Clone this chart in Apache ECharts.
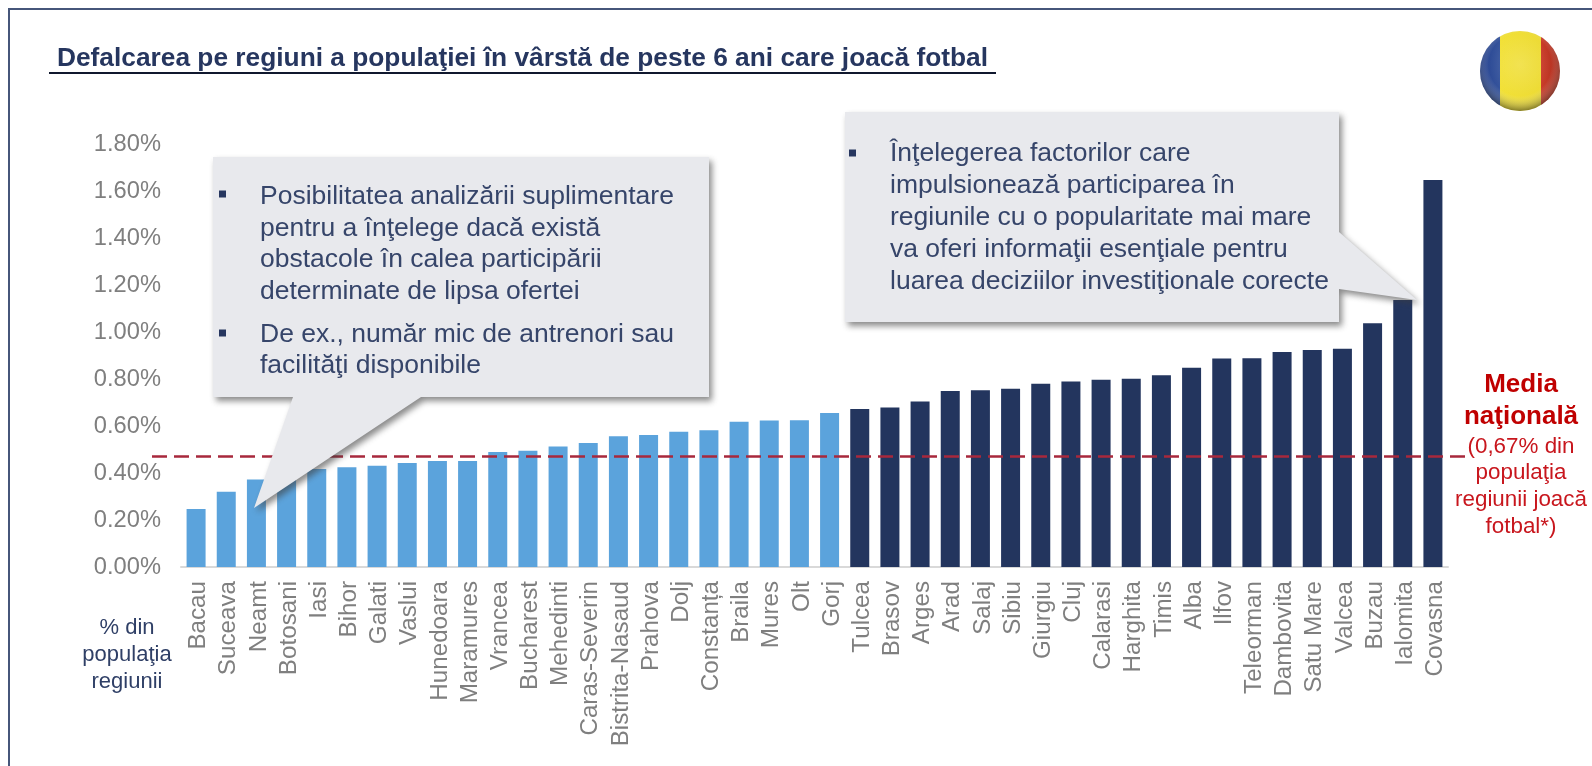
<!DOCTYPE html>
<html>
<head>
<meta charset="utf-8">
<title>Defalcarea pe regiuni</title>
<style>
html, body { margin: 0; padding: 0; background: #fff; }
#chart { width: 1592px; height: 766px; }
</style>
<script src="https://cdn.jsdelivr.net/npm/echarts@6/dist/echarts.min.js"></script>
</head>
<body>
<div id="chart"></div>
<script>
var regions = ['Bacau', 'Suceava', 'Neamt', 'Botosani', 'Iasi', 'Bihor', 'Galati', 'Vaslui', 'Hunedoara', 'Maramures',
    'Vrancea', 'Bucharest', 'Mehedinti', 'Caras-Severin', 'Bistrita-Nasaud', 'Prahova', 'Dolj', 'Constanța', 'Braila',
    'Mures', 'Olt', 'Gorj', 'Tulcea', 'Brasov', 'Arges', 'Arad', 'Salaj', 'Sibiu', 'Giurgiu', 'Cluj', 'Calarasi',
    'Harghita', 'Timis', 'Alba', 'Ilfov', 'Teleorman', 'Dambovita', 'Satu Mare', 'Valcea', 'Buzau', 'Ialomita', 'Covasna'];
var shares = [0.247, 0.32, 0.372, 0.39, 0.417, 0.425, 0.431, 0.443, 0.451, 0.451,
    0.489, 0.495, 0.513, 0.528, 0.556, 0.562, 0.576, 0.582, 0.618,
    0.623, 0.624, 0.655, 0.672, 0.679, 0.704, 0.749, 0.752, 0.759, 0.78, 0.789, 0.797,
    0.801, 0.816, 0.848, 0.887, 0.888, 0.915, 0.923, 0.929, 1.037, 1.136, 1.647];
var lightBars = 22; // first regions, below the national average group
var averageLine = 0.472;

var titleText = 'Defalcarea pe regiuni a populaţiei în vârstă de peste 6 ani care joacă fotbal';
var leftNote = ['Posibilitatea analizării suplimentare', 'pentru a înţelege dacă există', 'obstacole în calea participării',
    'determinate de lipsa ofertei', 'De ex., număr mic de antrenori sau', 'facilităţi disponibile'];
var leftNoteY = [197, 229, 260, 292, 335, 366];
var rightNote = ['Înţelegerea factorilor care', 'impulsionează participarea în', 'regiunile cu o popularitate mai mare',
    'va oferi informaţii esenţiale pentru', 'luarea deciziilor investiţionale corecte'];
var rightNoteY = [154, 186, 218, 250, 282];
var unitLines = ['% din', 'populaţia', 'regiunii'];
var unitY = [628, 655, 682];
var mediaBold = ['Media', 'naţională'];
var mediaBoldY = [385, 417];
var mediaLines = ['(0,67% din', 'populaţia', 'regiunii joacă', 'fotbal*)'];
var mediaY = [447, 473, 500, 527];

var FONT = '"Liberation Sans", Arial, sans-serif';
var NAVY = '#26365f';

function textEl(str, x, y, size, color, align, bold) {
    return {
        type: 'text',
        z: 110,
        x: x,
        y: y,
        style: {
            text: str,
            fill: color,
            font: (bold ? 'bold ' : '') + size + 'px ' + FONT,
            textAlign: align,
            textVerticalAlign: 'middle'
        }
    };
}

function bullet(x, y) {
    return { type: 'rect', z: 110, shape: { x: x, y: y - 3.5, width: 7, height: 7 }, style: { fill: NAVY } };
}

function callout(points) {
    return {
        type: 'polygon',
        z: 100,
        shape: { points: points },
        style: {
            fill: '#e8e9ed',
            shadowColor: 'rgba(60,60,60,0.6)',
            shadowBlur: 6,
            shadowOffsetX: 3,
            shadowOffsetY: 4
        }
    };
}

var graphics = [
    { type: 'rect', z: 1, shape: { x: 9, y: 9, width: 1600, height: 790 }, style: { fill: 'none', stroke: '#46567a', lineWidth: 2 } },
    { type: 'line', z: 1, shape: { x1: 49, y1: 73, x2: 996, y2: 73 }, style: { stroke: '#10182e', lineWidth: 2 } },
    textEl(titleText, 57, 59, 26.3, NAVY, 'left', true),
    callout([[213, 157], [709, 157], [709, 397], [421, 397], [254, 508], [293, 397], [213, 397]]),
    callout([[845, 112], [1339, 112], [1339, 232], [1417, 300], [1339, 289], [1339, 322], [845, 322]]),
    bullet(219, 194),
    bullet(219, 333),
    bullet(849, 153),
    // flag
    {
        type: 'circle',
        z: 50,
        shape: { cx: 1520, cy: 71, r: 40 },
        style: {
            fill: {
                type: 'linear', x: 0, y: 0, x2: 1, y2: 0,
                colorStops: [
                    { offset: 0, color: '#1c3a8c' }, { offset: 0.25, color: '#2a4a96' },
                    { offset: 0.25, color: '#f1df2c' }, { offset: 0.76, color: '#ecd92a' },
                    { offset: 0.76, color: '#c8321e' }, { offset: 1, color: '#a82312' }
                ]
            }
        }
    },
    {
        type: 'circle',
        z: 51,
        shape: { cx: 1520, cy: 71, r: 40 },
        style: {
            fill: {
                type: 'radial', x: 0.5, y: 0.42, r: 0.6,
                colorStops: [
                    { offset: 0, color: 'rgba(255,255,255,0.18)' },
                    { offset: 0.65, color: 'rgba(255,255,255,0.05)' },
                    { offset: 1, color: 'rgba(20,20,10,0.6)' }
                ]
            }
        }
    }
];

leftNote.forEach(function (s, i) { graphics.push(textEl(s, 260, leftNoteY[i], 26.5, '#36456a', 'left')); });
rightNote.forEach(function (s, i) { graphics.push(textEl(s, 890, rightNoteY[i], 26.5, '#36456a', 'left')); });
unitLines.forEach(function (s, i) { graphics.push(textEl(s, 127, unitY[i], 22, '#2f3f66', 'center')); });
mediaBold.forEach(function (s, i) { graphics.push(textEl(s, 1521, mediaBoldY[i], 26, '#c00000', 'center', true)); });
mediaLines.forEach(function (s, i) { graphics.push(textEl(s, 1521, mediaY[i], 22.4, '#c8161d', 'center')); });

var option = {
    animation: false,
    backgroundColor: '#fff',
    textStyle: { fontFamily: FONT },
    grid: { left: 181, right: 144, top: 144, bottom: 199 },
    xAxis: {
        type: 'category',
        data: regions,
        axisTick: { show: false },
        axisLine: { lineStyle: { color: '#d9d9d9', width: 2 } },
        // small line box, top aligned: nudges the rotated labels onto the bars
        axisLabel: { rotate: 90, interval: 0, margin: 14, fontSize: 24.2, color: '#7f7f7f', fontFamily: FONT, verticalAlign: 'top', lineHeight: 5 }
    },
    yAxis: {
        type: 'value',
        min: 0,
        max: 1.8,
        interval: 0.2,
        splitLine: { show: false },
        axisLine: { show: false },
        axisTick: { show: false },
        axisLabel: {
            margin: 20,
            fontSize: 23.7,
            color: '#7f7f7f',
            fontFamily: FONT,
            formatter: function (v) { return v.toFixed(2) + '%'; }
        }
    },
    series: [ {
        type: 'bar',
        barWidth: 19,
        data: shares,
        itemStyle: {
            color: function (p) { return p.dataIndex < lightBars ? '#5ba3dc' : '#23355e'; }
        },
        markLine: {
            silent: true,
            symbol: 'none',
            z: 20,
            label: { show: false },
            lineStyle: { color: '#a8283c', width: 2.5, type: [15, 7], opacity: 1 },
            data: [ [ { x: 152, yAxis: averageLine }, { x: 1467, yAxis: averageLine } ] ]
        }
    } ],
    graphic: { elements: graphics }
};

var chart = echarts.init(document.getElementById('chart'));
chart.setOption(option);
</script>
</body>
</html>
